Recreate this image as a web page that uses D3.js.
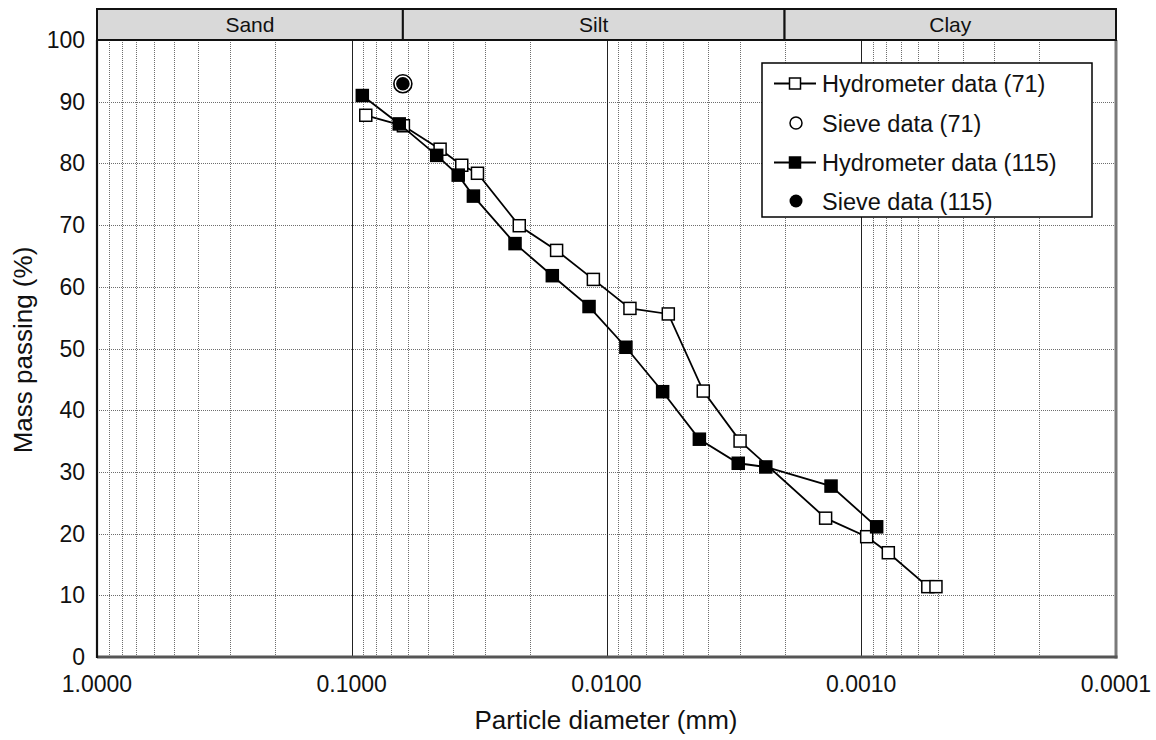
<!DOCTYPE html>
<html>
<head>
<meta charset="utf-8">
<script src="https://cdn.jsdelivr.net/npm/d3@7"></script>
<style>
  html, body { margin: 0; padding: 0; background: #fff; }
  svg { display: block; font-family: "Liberation Sans", Arial, Helvetica, sans-serif; }
</style>
</head>
<body>
<svg id="chart" width="1156" height="740"></svg>
<script>
// ---- Data ----
const bandNames = ["Sand", "Silt", "Clay"];
const bandEdges = [1, 0.063, 0.002, 0.0001];

const xTickValues = [1, 0.1, 0.01, 0.001, 0.0001];
const yTickValues = [0, 10, 20, 30, 40, 50, 60, 70, 80, 90, 100];

const hydroDiam71 = [0.0881, 0.0627, 0.0450, 0.0370, 0.0321, 0.0220, 0.0157, 0.01126, 0.00809, 0.00572, 0.00417, 0.00299, 0.00138, 0.000952, 0.000783, 0.000548, 0.000509];
const hydroPass71 = [87.8, 86.1, 82.3, 79.7, 78.4, 69.9, 65.9, 61.2, 56.5, 55.6, 43.1, 35.0, 22.5, 19.5, 16.9, 11.4, 11.4];

const hydroDiam115 = [0.0909, 0.0651, 0.0464, 0.0382, 0.0333, 0.02286, 0.01632, 0.01171, 0.00839, 0.00602, 0.00432, 0.00304, 0.00237, 0.001314, 0.000870];
const hydroPass115 = [91.0, 86.4, 81.3, 78.1, 74.7, 67.0, 61.8, 56.8, 50.2, 43.0, 35.3, 31.4, 30.8, 27.7, 21.1];

const sieveDiam71 = [0.063];
const sievePass71 = [92.9];
const sieveDiam115 = [0.063];
const sievePass115 = [92.9];

const legendLabels = ["Hydrometer data (71)", "Sieve data (71)", "Hydrometer data (115)", "Sieve data (115)"];

// ---- Layout ----
const L = 97, R = 1116, T = 40, B = 657, bandTop = 9;
const svg = d3.select("#chart");

const x = d3.scaleLog().domain([1, 0.0001]).range([L, R]);
const y = d3.scaleLinear().domain([0, 100]).range([B, T]);

svg.append("rect").attr("x", L).attr("y", T).attr("width", R - L).attr("height", B - T).attr("fill", "#fff");

// minor vertical grid
const allTicks = x.ticks();
const isMajor = v => Math.abs(Math.log10(v) - Math.round(Math.log10(v))) < 1e-9;
svg.append("g").selectAll("line")
  .data(allTicks.filter(v => !isMajor(v)))
  .join("line")
  .attr("x1", d => Math.round(x(d)) + 0.5).attr("x2", d => Math.round(x(d)) + 0.5)
  .attr("y1", T).attr("y2", B)
  .attr("stroke", "#6e6e6e").attr("stroke-width", 1)
  .attr("stroke-dasharray", "1,1");

// horizontal grid
svg.append("g").selectAll("line")
  .data(yTickValues.filter(v => v > 0 && v < 100))
  .join("line")
  .attr("x1", L).attr("x2", R)
  .attr("y1", d => Math.round(y(d)) + 0.5).attr("y2", d => Math.round(y(d)) + 0.5)
  .attr("stroke", "#6e6e6e").attr("stroke-width", 1)
  .attr("stroke-dasharray", "1,1");

// major vertical grid
svg.append("g").selectAll("line")
  .data(xTickValues.filter(v => v < 1 && v > 0.0001))
  .join("line")
  .attr("x1", d => Math.round(x(d)) + 0.5).attr("x2", d => Math.round(x(d)) + 0.5)
  .attr("y1", T).attr("y2", B)
  .attr("stroke", "#222").attr("stroke-width", 1);

// plot frame
svg.append("line").attr("x1", R).attr("x2", R).attr("y1", T).attr("y2", B + 1.5)
  .attr("stroke", "#7a7a7a").attr("stroke-width", 3);
svg.append("line").attr("x1", L).attr("x2", R + 1.5).attr("y1", B).attr("y2", B)
  .attr("stroke", "#555").attr("stroke-width", 3);
svg.append("line").attr("x1", L).attr("x2", L).attr("y1", T).attr("y2", B + 1)
  .attr("stroke", "#111").attr("stroke-width", 2.2);

// band on top
const bands = bandNames.map((n, i) => ({ name: n, a: bandEdges[i], b: bandEdges[i + 1] }));
const bandG = svg.append("g");
bandG.selectAll("rect").data(bands).join("rect")
  .attr("x", d => x(d.a)).attr("width", d => x(d.b) - x(d.a))
  .attr("y", bandTop).attr("height", T - bandTop)
  .attr("fill", "#d9d9d9").attr("stroke", "#111").attr("stroke-width", 2);
bandG.selectAll("text").data(bands).join("text")
  .attr("x", d => (x(d.a) + x(d.b)) / 2).attr("y", 32)
  .attr("text-anchor", "middle").attr("font-size", 21).attr("fill", "#111")
  .text(d => d.name);

// axis tick labels
svg.append("g").selectAll("text").data(yTickValues).join("text")
  .attr("x", 85).attr("y", d => y(d) + 8)
  .attr("text-anchor", "end").attr("font-size", 23).attr("fill", "#111")
  .text(d => d);
const fmt = d3.format(".4f");
svg.append("g").selectAll("text").data(xTickValues).join("text")
  .attr("x", d => x(d)).attr("y", 692)
  .attr("text-anchor", "middle").attr("font-size", 23).attr("fill", "#111")
  .text(d => fmt(d));

// axis titles
svg.append("text").attr("x", 606).attr("y", 729)
  .attr("text-anchor", "middle").attr("font-size", 26).attr("fill", "#111")
  .text("Particle diameter (mm)");
svg.append("text").attr("transform", "translate(32,350) rotate(-90)")
  .attr("text-anchor", "middle").attr("font-size", 26).attr("fill", "#111")
  .text("Mass passing (%)");

// series
const line = d3.line().x(d => x(d[0])).y(d => y(d[1]));
const s71 = hydroDiam71.map((d, i) => [d, hydroPass71[i]]);
const s115 = hydroDiam115.map((d, i) => [d, hydroPass115[i]]);
const sq = 12;

function drawSeries(data, filled) {
  const g = svg.append("g");
  g.append("path").datum(data).attr("d", line)
    .attr("fill", "none").attr("stroke", "#000").attr("stroke-width", 1.8);
  g.selectAll("rect").data(data).join("rect")
    .attr("x", d => x(d[0]) - sq / 2).attr("y", d => y(d[1]) - sq / 2)
    .attr("width", sq).attr("height", sq)
    .attr("fill", filled ? "#000" : "#fff")
    .attr("stroke", "#000").attr("stroke-width", 1.5);
}
drawSeries(s71, false);
drawSeries(s115, true);

// sieve points
const sv71 = sieveDiam71.map((d, i) => [d, sievePass71[i]]);
const sv115 = sieveDiam115.map((d, i) => [d, sievePass115[i]]);
svg.append("g").selectAll("circle").data(sv71).join("circle")
  .attr("cx", d => x(d[0])).attr("cy", d => y(d[1])).attr("r", 9)
  .attr("fill", "#fff").attr("stroke", "#000").attr("stroke-width", 1.6);
svg.append("g").selectAll("circle").data(sv115).join("circle")
  .attr("cx", d => x(d[0])).attr("cy", d => y(d[1])).attr("r", 6.8)
  .attr("fill", "#000");

// legend
const lg = svg.append("g");
lg.append("rect").attr("x", 762).attr("y", 63).attr("width", 330).attr("height", 154)
  .attr("fill", "#fff").attr("stroke", "#000").attr("stroke-width", 1.5);
const rowsY = [83.5, 123, 162.5, 201];
const kinds = ["lineOpen", "circleOpen", "lineFilled", "circleFilled"];
legendLabels.forEach((lab, i) => {
  const ry = rowsY[i];
  const k = kinds[i];
  if (k.startsWith("line")) {
    lg.append("line").attr("x1", 774).attr("x2", 816).attr("y1", ry).attr("y2", ry)
      .attr("stroke", "#000").attr("stroke-width", 1.8);
    lg.append("rect").attr("x", 795 - 5.5).attr("y", ry - 5.5).attr("width", 11).attr("height", 11)
      .attr("fill", k === "lineFilled" ? "#000" : "#fff").attr("stroke", "#000").attr("stroke-width", 1.5);
  } else {
    lg.append("circle").attr("cx", 796).attr("cy", ry).attr("r", k === "circleFilled" ? 6.5 : 6)
      .attr("fill", k === "circleFilled" ? "#000" : "#fff")
      .attr("stroke", "#000").attr("stroke-width", k === "circleFilled" ? 0 : 1.5);
  }
  lg.append("text").attr("x", 822).attr("y", ry + 8.5)
    .attr("font-size", 23.5).attr("fill", "#111").text(lab);
});
</script>
</body>
</html>
